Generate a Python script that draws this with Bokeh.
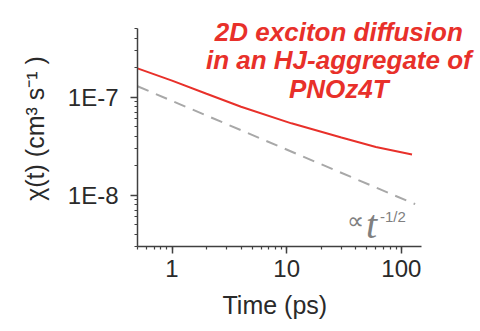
import math
from bokeh.plotting import figure
from bokeh.models import Range1d, Label, CustomJSTickFormatter, LogTicker, Title
from bokeh.embed import file_html
from bokeh.resources import INLINE

# data
time_ps = [0.5, 1, 2, 4, 11, 30, 60, 124]
chi_vals = [1.96e-7, 1.47e-7, 1.08e-7, 7.96e-8, 5.4e-8, 3.88e-8, 3.1e-8, 2.6e-8]
ref_time = [0.5, 132]
ref_vals = [1.29e-7, 8.1e-9]
title_lines = ["2D exciton diffusion", "in an HJ-aggregate of", "PNOz4T"]
x_axis_lim = (0.5, 150)
y_axis_lim = (3e-9, 5e-7)

FONT = "Liberation Sans"
RED = "#e8302a"
GRAY = "#a8a8a8"
DARK = "#2a2a2a"

W, H = 480, 331
left, bottom = 137, 85
axis_w, axis_h = 284, 218          # drawn axis extent in px
right_b, top_b = 2, 10             # frame extends beyond axis for annotations
frame_w = W - left - right_b
frame_h = H - top_b - bottom
xl0, xl1 = math.log10(x_axis_lim[0]), math.log10(x_axis_lim[1])
yl0, yl1 = math.log10(y_axis_lim[0]), math.log10(y_axis_lim[1])
x_end = 10 ** (xl0 + (xl1 - xl0) * frame_w / axis_w)
y_end = 10 ** (yl0 + (yl1 - yl0) * frame_h / axis_h)

p = figure(width=W, height=H, x_axis_type="log", y_axis_type="log",
           x_range=Range1d(x_axis_lim[0], x_end), y_range=Range1d(y_axis_lim[0], y_end),
           output_backend="svg", toolbar_location=None,
           min_border_left=left, min_border_right=right_b, min_border_top=top_b,
           min_border_bottom=bottom)
p.xgrid.visible = False
p.ygrid.visible = False
p.outline_line_color = None
p.background_fill_color = "white"
p.border_fill_color = "white"

p.line(ref_time, ref_vals, line_color=GRAY, line_width=2, line_dash="12 8")
p.line(time_ps, chi_vals, line_color=RED, line_width=2)

for ax in (p.xaxis[0], p.yaxis[0]):
    ax.axis_line_color = "#404040"
    ax.axis_line_width = 1.5
    ax.major_tick_line_color = "#404040"
    ax.minor_tick_line_color = "#404040"
    ax.major_tick_line_width = 1.5
    ax.minor_tick_line_width = 1.2
    ax.major_tick_out = 7
    ax.major_tick_in = 0
    ax.minor_tick_out = 3
    ax.minor_tick_in = 0
    ax.major_label_text_font = FONT
    ax.major_label_text_font_size = "24px"
    ax.major_label_text_color = DARK
    ax.axis_label_text_font = FONT
    ax.axis_label_text_font_style = "normal"
    ax.axis_label_text_color = DARK

p.xaxis.bounds = x_axis_lim
p.yaxis.bounds = y_axis_lim
p.xaxis.ticker = LogTicker(num_minor_ticks=10)
p.yaxis.ticker = LogTicker(num_minor_ticks=10)
p.xaxis.formatter = CustomJSTickFormatter(code="return String(Math.round(tick));")
p.yaxis.formatter = CustomJSTickFormatter(code="return '1E' + Math.round(Math.log10(tick));")
p.xaxis.major_label_standoff = 6
p.yaxis.major_label_standoff = 12
p.yaxis.axis_label = "\u03c7(t) (cm\u00b3 s\u207b\u00b9 )"
p.yaxis.axis_label_text_font_size = "25px"
p.yaxis.axis_label_standoff = 16

# x axis label, aligned under the drawn axis (not the wider frame)
p.add_layout(Title(text="Time (ps)", align="left", offset=85, standoff=18,
                   text_font=FONT, text_font_size="25px", text_font_style="normal",
                   text_color=DARK), "below")

# title annotation
for txt, yv in zip(title_lines, [4.6e-7, 2.39e-7, 1.207e-7]):
    p.add_layout(Label(x=28.5, y=yv, text=txt, text_font=FONT, text_font_size="26px",
                       text_font_style="bold italic", text_color=RED,
                       text_align="center", text_baseline="alphabetic"))

# proportionality annotation
p.add_layout(Label(x=33.5, y=5.5e-9, text="\u221d", text_font=FONT, text_font_size="24px",
                   text_color="#808080", text_baseline="alphabetic"))
p.add_layout(Label(x=49.1, y=4.98e-9, text="t", text_font="Liberation Serif", text_font_size="40px",
                   text_font_style="italic", text_color="#808080", text_baseline="alphabetic"))
p.add_layout(Label(x=65.1, y=6.0e-9, text="-1/2", text_font=FONT, text_font_size="15px",
                   text_color="#808080", text_baseline="alphabetic"))

open("out.html", "w").write(file_html(p, INLINE))
